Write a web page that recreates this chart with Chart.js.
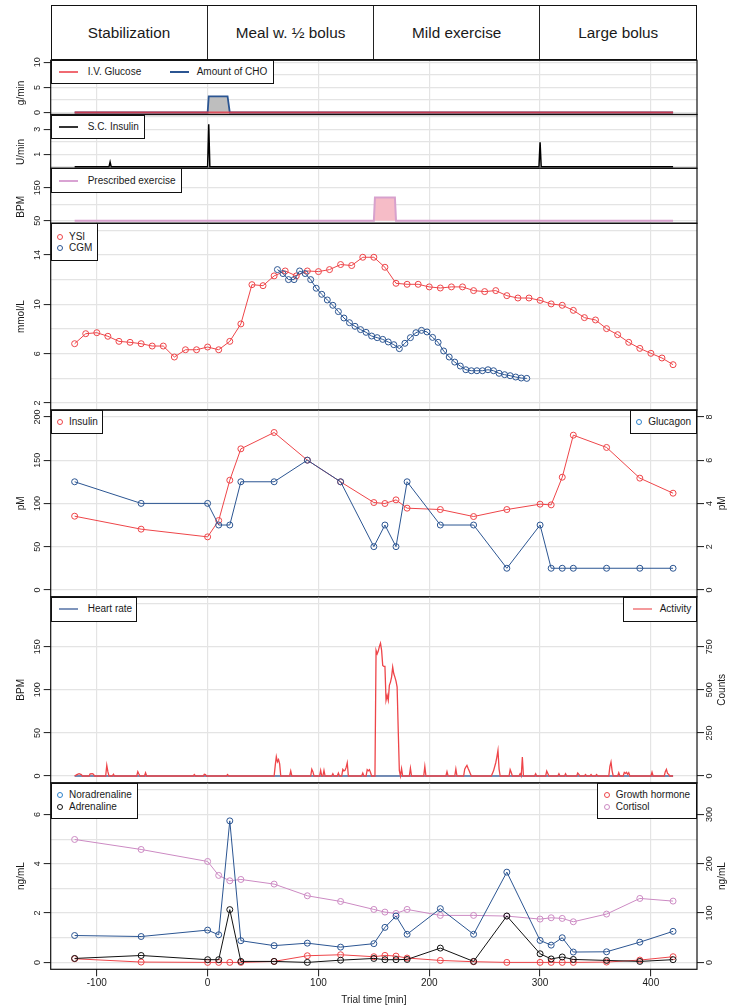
<!DOCTYPE html>
<html><head><meta charset="utf-8"><title>Trial overview</title>
<script src="https://cdn.jsdelivr.net/npm/chart.js@4.4.1/dist/chart.umd.min.js"></script>
<style>
html,body{margin:0;padding:0;background:#fff;}
body{width:743px;height:1008px;position:relative;overflow:hidden;font-family:"Liberation Sans",Arial,Helvetica,sans-serif;color:#1a1a1a;}
canvas{position:absolute;left:0;}
.lg{position:absolute;border:1px solid #111;background:#fff;box-sizing:border-box;z-index:5;font-size:10px;}
.lg span{position:absolute;white-space:nowrap;line-height:12px;}
.hdr{position:absolute;box-sizing:border-box;border:1.2px solid #111;z-index:4;background:#fff;}
.cell{position:absolute;top:0;bottom:0;display:flex;align-items:center;justify-content:center;font-size:15.3px;white-space:nowrap;}
.vdiv{position:absolute;top:0;bottom:0;width:1.2px;background:#222;}
</style></head><body>
<script>
// ---------------- data ----------------
const xMin = -141.6, xMax = 441.6;
const xTicks = [-100, 0, 100, 200, 300, 400];
const phaseNames = ['Stabilization', 'Meal w. \u00bd bolus', 'Mild exercise', 'Large bolus'];
const phaseStarts = [xMin, 0, 150, 300];

const ivGlucoseT = [-120, 420];
const ivGlucose = [0, 0];
const choT = [-120, 0, 1, 18, 20, 420];
const cho = [0, 0, 3.2, 3.2, 0, 0];
const scInsulinT = [-120, -89, -88, -87, 0, 1, 2, 299, 300, 301, 420];
const scInsulin = [0, 0, 0.38, 0, 0, 3.4, 0, 0, 1.95, 0, 0];
const exerciseT = [-120, 150, 151, 169, 170, 420];
const exercise = [50, 50, 120, 120, 50, 50];

const ysiT = [-120,-110,-100,-90,-80,-70,-60,-50,-40,-30,-20,-10,0,10,20,30,40,50,60,70,80,90,100,110,120,130,140,150,160,170,180,190,200,210,220,230,240,250,260,270,280,290,300,310,320,330,340,350,360,370,380,390,400,410,420];
const ysi = [6.81,7.62,7.70,7.41,7.00,6.92,6.81,6.62,6.62,5.73,6.32,6.32,6.54,6.32,7.00,8.41,11.59,11.51,12.30,12.70,12.30,12.70,12.65,12.81,13.22,13.14,13.81,13.81,13.00,11.70,11.62,11.62,11.41,11.32,11.41,11.41,11.11,11.03,11.11,10.70,10.51,10.51,10.32,10.03,9.92,9.51,8.92,8.73,8.03,7.54,6.92,6.43,6.03,5.65,5.11];
const cgmT = [63,68,73,78,83,88,93,98,103,108,113,118,123,128,133,138,143,148,153,158,163,168,173,178,183,188,193,198,203,208,213,218,223,228,233,238,243,248,253,258,263,268,273,278,283,288];
const cgm = [12.81,12.49,12.0,12.0,12.70,12.49,12.0,11.30,10.81,10.35,9.92,9.41,8.89,8.51,8.22,7.95,7.73,7.43,7.30,7.16,6.95,6.73,6.41,6.84,7.30,7.70,7.89,7.76,7.32,6.92,6.22,5.73,5.32,5.0,4.70,4.62,4.62,4.62,4.70,4.62,4.41,4.30,4.22,4.11,4.03,4.0];

const sampleT = [-120,-60,0,10,20,30,60,90,120,150,160,170,180,210,240,270,300,310,320,330,360,390,420];
const insulin = [85.2,70.2,61.3,80.2,126.8,163.1,182,150,124.9,101,99.9,104.1,94.5,92.9,84.8,92.9,99.1,98.3,130.3,178.9,164.7,129.2,111.8];
const glucagon = [5,4,4,3,3,5,5,6,5,2,3,2,5,3,3,1,3,1,1,1,1,1,1];
const noradrenaline = [1.09,1.05,1.31,1.12,5.74,0.88,0.68,0.78,0.62,0.76,1.42,1.88,1.14,2.18,1.14,3.66,0.89,0.70,1.00,0.42,0.43,0.82,1.26];
const adrenaline = [0.16,0.28,0.11,0.11,2.14,0.04,0.04,0.00,0.09,0.16,0.11,0.11,0.12,0.58,0.04,1.88,0.35,0.14,0.22,0.12,0.08,0.04,0.11];
const growthHormone = [7.4,0.7,0,0,0,0,2,13.5,15.5,11.5,14.2,12.8,8.8,4,1.4,0,0,0,0,0,0.7,4.7,11.5];
const cortisol = [249.3,229,204.7,176.4,165.5,168.2,158.8,135.1,123.6,107.4,102,99.3,107.4,95.3,95.3,93.9,87.8,90.5,89.2,82.4,98,129.7,124.3];

const heartRateT = [-120, 420];
const heartRate = [0, 0];
const activityT = [
 -120,-118,-116,-114,-113,
 -107,-106,-104,-103,-102,
 -92,-91,-90,-89,
 -86,-85,-84,
 -64,-63,-62,-61,
 -57,-56,-55,
 -13,-12,-11,
 -4,-3,-2,-1,
 17,18,19,
 60,61,62,63,64,65,66,
 74,75,76,
 93,94,95,96,
 101,102,103,104,105,106,
 112,113,114,
 117,118,119,
 121,122,123,124,125,126,127,
 139,140,141,
 143,144,145,146,147,148,
 151,152,153,154,155,156,157,158,159,160,161,162,163,164,165,166,167,168,169,170,171,172,173,174,175,176,
 182,183,184,
 195,196,197,
 215,216,217,
 223,224,225,
 231,232,233,234,235,236,237,238,
 256,258,260,261,262,263,264,
 272,273,274,275,
 281,282,283,284,285,
 295,296,297,
 305,306,307,308,
 316,317,318,
 322,323,324,
 333,334,335,336,
 340,341,342,
 345,346,347,
 350,351,352,
 362,363,364,365,366,
 370,371,372,
 375,376,377,378,379,380,381,
 400,401,402,
 412,413,414,415,416,417,
 420];
const activity = [
 0,8,13,8,0,
 0,12,13,10,0,
 0,62,25,0,
 0,10,0,
 0,25,12,0,
 0,19,0,
 0,8,0,
 0,10,8,0,
 0,8,0,
 0,60,112,82,95,70,0,
 0,29,0,
 0,39,25,0,
 0,33,0,0,33,0,
 0,13,0,
 0,17,0,
 0,39,30,33,50,77,0,
 0,17,0,
 0,37,30,37,20,0,
 0,729,709,725,752,771,729,642,636,636,439,468,439,526,545,574,632,593,574,551,516,265,33,0,43,0,
 0,46,0,
 0,56,0,
 0,25,0,
 0,41,0,
 0,40,52,62,45,30,15,0,
 0,30,77,110,149,40,0,
 0,37,20,0,
 0,13,0,110,0,
 0,13,0,
 0,29,15,0,
 0,13,0,
 0,13,0,
 0,17,10,0,
 0,8,0,
 0,8,0,
 0,8,0,
 0,56,81,30,0,
 0,19,0,
 0,21,15,21,10,19,0,
 0,23,0,
 0,25,39,15,10,0,
 0];

// tick / grid values
const p1Grid = [0, 2.5, 5, 7.5, 10], p1Labels = [0, 5, 10];
const p2Grid = [0, 1, 2, 3, 4], p2Labels = [1, 3];
const p3Grid = [50, 100, 150], p3Labels = [50, 150];
const p4Grid = [2, 4, 6, 8, 10, 12, 14, 16], p4Labels = [2, 6, 10, 14];
const p5Grid = [0, 50, 100, 150, 200], p5Labels = [0, 50, 100, 150, 200];
const p5RTicks = [0, 2, 4, 6, 8];
const p6Grid = [0, 50, 100, 150, 200], p6Labels = [0, 50, 100, 150];
const p6RTicks = [0, 250, 500, 750];
const p7Grid = [0, 1, 2, 3, 4, 5, 6, 7], p7Labels = [0, 2, 4, 6];
const p7RTicks = [0, 100, 200, 300];

// ---------------- styling helpers ----------------
const FONT = '"Liberation Sans", Arial, Helvetica, sans-serif';
const RED = '#EE4549', BLUE = '#2B5592', LBLUE = '#2D82CB', PINK = '#CC8AC3', GRID = '#E4E4E4', INK = '#1a1a1a';
const LEFT_W = 50.7, RIGHT_W = 46;

const mctx = document.createElement('canvas').getContext('2d');
function widest(labels, size) {
  mctx.font = `normal normal ${size}px ${FONT}`;
  return Math.max(0, ...labels.map(v => mctx.measureText(String(v)).width));
}

function yAxis(o) {
  const size = 9, tl = 7;
  const gap = o.pos === 'left' ? 12.7 : 13;
  const pad = gap - tl - widest(o.labels, size) / 2;
  return {
    type: 'linear', position: o.pos, min: o.min, max: o.max,
    afterBuildTicks: s => { s.ticks = o.grid.map(v => ({value: v})); },
    afterFit: s => { s.width = o.pos === 'left' ? LEFT_W : RIGHT_W; },
    grid: {display: true, drawOnChartArea: o.drawGrid !== false, color: GRID, lineWidth: 1.2,
      drawTicks: true, tickLength: tl, tickWidth: 1,
      tickColor: c => (c.tick && o.labels.includes(c.tick.value)) ? INK : 'rgba(0,0,0,0)'},
    border: {display: false},
    ticks: {autoSkip: false, minRotation: 90, maxRotation: 90, crossAlign: 'center', padding: pad,
      color: INK, font: {size, family: FONT}, callback: v => o.labels.includes(v) ? String(v) : ''},
    title: o.title ? {display: true, text: o.title, color: INK, font: {size: 10, family: FONT}, padding: {top: 14.8, bottom: 0}} : {display: false}
  };
}

function xAxis(show, h) {
  return {
    type: 'linear', min: xMin, max: xMax,
    afterBuildTicks: s => { s.ticks = xTicks.map(v => ({value: v})); },
    afterFit: s => { s.height = h; },
    grid: {display: true, color: GRID, lineWidth: 1.2, drawTicks: show, tickLength: 7, tickWidth: 1, tickColor: INK},
    border: {display: false},
    ticks: {display: show, autoSkip: false, maxRotation: 0, minRotation: 0, padding: 1, color: INK, font: {size: 10, family: FONT}},
    title: {display: show, text: 'Trial time [min]', color: INK, font: {size: 10, family: FONT}, padding: {top: 0, bottom: 2}}
  };
}

const XY = (t, v) => t.map((x, i) => ({x, y: v[i]}));
function line(label, t, v, color, extra) {
  return Object.assign({label, data: XY(t, v), borderColor: color, backgroundColor: color, borderWidth: 1,
    pointRadius: 0, pointHoverRadius: 0, fill: false, tension: 0}, extra || {});
}
function pts(label, t, v, color, extra) {
  return line(label, t, v, color, Object.assign({pointRadius: 3, pointBorderWidth: 1, pointBorderColor: color,
    pointBackgroundColor: 'rgba(0,0,0,0)', pointStyle: 'circle'}, extra || {}));
}

function extras(titles) {
  return {id: 'extras', afterDraw(chart) {
    const {ctx, chartArea: a} = chart;
    ctx.save();
    ctx.strokeStyle = '#111'; ctx.lineWidth = 1.2;
    ctx.strokeRect(a.left, a.top, a.right - a.left, a.bottom - a.top);
    ctx.font = `10px ${FONT}`; ctx.fillStyle = INK; ctx.textAlign = 'center'; ctx.textBaseline = 'middle';
    for (const t of titles) {
      ctx.save();
      ctx.translate(t.x, (a.top + a.bottom) / 2 + (t.dy || 0));
      ctx.rotate(-Math.PI / 2);
      ctx.fillText(t.text, 0, 0);
      ctx.restore();
    }
    ctx.restore();
  }};
}

function makePanel(p) {
  const cTop = Math.floor(p.top) - 12;
  const cBot = p.last ? 1008 : Math.ceil(p.bottom) + 12;
  const cv = document.createElement('canvas');
  cv.width = 743; cv.height = cBot - cTop;
  cv.style.top = cTop + 'px'; cv.style.width = '743px'; cv.style.height = (cBot - cTop) + 'px';
  document.body.appendChild(cv);
  const xh = p.last ? (1008 - p.bottom) : 0;
  const scales = Object.assign({x: xAxis(!!p.last, xh)}, p.scales);
  return new Chart(cv, {
    type: 'line',
    data: {datasets: p.datasets},
    options: {
      responsive: false, maintainAspectRatio: false, animation: false, devicePixelRatio: 1, events: [],
      layout: {padding: {left: 0, right: p.right ? 0 : RIGHT_W, top: p.top - cTop, bottom: p.last ? 0 : cBot - p.bottom}},
      plugins: {legend: {display: false}, tooltip: {enabled: false}},
      scales
    },
    plugins: [extras(p.titles || [])]
  });
}

function legend(box, items) {
  const d = document.createElement('div'); d.className = 'lg';
  d.style.left = box.x + 'px'; d.style.top = box.y + 'px'; d.style.width = box.w + 'px'; d.style.height = box.h + 'px';
  for (const it of items) {
    const m = document.createElement('div');
    if (it.kind === 'line') {
      m.style.cssText = `position:absolute;left:${it.mx - 1}px;top:${it.y - 2}px;width:19px;height:2px;background:${it.color}`;
    } else {
      m.style.cssText = `position:absolute;left:${it.mx - 4}px;top:${it.y - 4}px;width:6px;height:6px;box-sizing:border-box;border:1.2px solid ${it.color};border-radius:50%`;
    }
    d.appendChild(m);
    const s = document.createElement('span'); s.textContent = it.text;
    s.style.left = (it.tx - 1) + 'px'; s.style.top = (it.y - 7) + 'px';
    d.appendChild(s);
  }
  document.body.appendChild(d);
}

function header(chart) {
  const xs = chart.scales.x, a = chart.chartArea;
  const L = a.left, R = a.right, top = 5, h = 60.3 - 5, bw = 1.2;
  const d = document.createElement('div'); d.className = 'hdr';
  d.style.left = L + 'px'; d.style.top = top + 'px'; d.style.width = (R - L) + 'px'; d.style.height = h + 'px';
  const bounds = phaseStarts.map(v => xs.getPixelForValue(v)).concat([R]);
  phaseNames.forEach((n, i) => {
    const c = document.createElement('div'); c.className = 'cell';
    c.style.left = (bounds[i] - L - bw) + 'px'; c.style.width = (bounds[i + 1] - bounds[i]) + 'px';
    c.textContent = n; d.appendChild(c);
    if (i > 0) { const v = document.createElement('div'); v.className = 'vdiv'; v.style.left = (bounds[i] - L - bw - 0.6) + 'px'; d.appendChild(v); }
  });
  document.body.appendChild(d);
}

// ---------------- panels ----------------
const c1 = makePanel({top: 60.3, bottom: 114.5,
  scales: {y: yAxis({pos: 'left', min: -0.4, max: 10.4, grid: p1Grid, labels: p1Labels})},
  titles: [{text: 'g/min', x: 20.8, dy: 5.5}],
  datasets: [
    line('I.V. Glucose', ivGlucoseT, ivGlucose, 'rgba(225,55,70,0.85)', {borderWidth: 2, order: 0}),
    line('Amount of CHO', choT, cho, BLUE, {borderWidth: 1.8, fill: 'origin', backgroundColor: '#BEBEBE', order: 1})
  ]});
header(c1);

makePanel({top: 114.5, bottom: 168.3,
  scales: {y: yAxis({pos: 'left', min: -0.12, max: 4.18, grid: p2Grid, labels: p2Labels})},
  titles: [{text: 'U/min', x: 20.8, dy: 10.5}],
  datasets: [line('S.C. Insulin', scInsulinT, scInsulin, '#000', {borderWidth: 1.5})]});

makePanel({top: 168.3, bottom: 223.3,
  scales: {y: yAxis({pos: 'left', min: 42.1, max: 208.8, grid: p3Grid, labels: p3Labels})},
  titles: [{text: 'BPM', x: 20.8, dy: 11}],
  datasets: [line('Prescribed exercise', exerciseT, exercise, '#D7A1CD', {borderWidth: 2, fill: {value: 50}, backgroundColor: '#F6BCC7'})]});

makePanel({top: 223.3, bottom: 410,
  scales: {y: yAxis({pos: 'left', min: 1.44, max: 16.56, grid: p4Grid, labels: p4Labels, title: 'mmol/L'})},
  datasets: [
    pts('CGM', cgmT, cgm, BLUE, {order: 0}),
    pts('YSI', ysiT, ysi, RED, {order: 1})
  ]});

makePanel({top: 410, bottom: 596.8, right: true,
  scales: {
    y: yAxis({pos: 'left', min: -8, max: 208, grid: p5Grid, labels: p5Labels, title: 'pM'}),
    y2: yAxis({pos: 'right', min: -0.32, max: 8.32, grid: p5RTicks, labels: p5RTicks, drawGrid: false})
  },
  titles: [{text: 'pM', x: 722.5}],
  datasets: [
    pts('Glucagon', sampleT, glucagon, BLUE, {yAxisID: 'y2', order: 0}),
    pts('Insulin', sampleT, insulin, RED, {yAxisID: 'y', order: 1})
  ]});

makePanel({top: 596.8, bottom: 782.9, right: true,
  scales: {
    y: yAxis({pos: 'left', min: -8, max: 208, grid: p6Grid, labels: p6Labels, title: 'BPM'}),
    y2: yAxis({pos: 'right', min: -40, max: 1040, grid: p6RTicks, labels: p6RTicks, drawGrid: false})
  },
  titles: [{text: 'Counts', x: 722.5}],
  datasets: [
    line('Activity', activityT, activity, RED, {yAxisID: 'y2', borderWidth: 1.3, order: 0}),
    line('Heart rate', heartRateT, heartRate, '#4A6AA0', {yAxisID: 'y', borderWidth: 1.5, order: 1})
  ]});

makePanel({top: 782.9, bottom: 969.3, right: true, last: true,
  scales: {
    y: yAxis({pos: 'left', min: -0.28, max: 7.28, grid: p7Grid, labels: p7Labels, title: 'ng/mL'}),
    y2: yAxis({pos: 'right', min: -14, max: 364, grid: p7RTicks, labels: p7RTicks, drawGrid: false})
  },
  titles: [{text: 'ng/mL', x: 722.5}],
  datasets: [
    pts('Noradrenaline', sampleT, noradrenaline, BLUE, {order: 0}),
    pts('Adrenaline', sampleT, adrenaline, '#111', {order: 1}),
    pts('Growth hormone', sampleT, growthHormone, RED, {yAxisID: 'y2', order: 2}),
    pts('Cortisol', sampleT, cortisol, PINK, {yAxisID: 'y2', order: 3})
  ]});

// ---------------- legends ----------------
legend({x: 50.7, y: 60.3, w: 223.3, h: 24}, [
  {kind: 'line', color: '#F06A72', mx: 8.3, tx: 37, y: 12, text: 'I.V. Glucose'},
  {kind: 'line', color: BLUE, mx: 119.3, tx: 146, y: 12, text: 'Amount of CHO'}]);
legend({x: 50.7, y: 114.5, w: 94, h: 24.5}, [
  {kind: 'line', color: '#333', mx: 8.3, tx: 37, y: 12.5, text: 'S.C. Insulin'}]);
legend({x: 50.7, y: 168.3, w: 131.3, h: 25}, [
  {kind: 'line', color: '#D9A3D3', mx: 8.3, tx: 37, y: 12.8, text: 'Prescribed exercise'}]);
legend({x: 50.7, y: 223.3, w: 47, h: 37.4}, [
  {kind: 'pt', color: RED, mx: 9.3, tx: 18.3, y: 13.4, text: 'YSI'},
  {kind: 'pt', color: BLUE, mx: 9.3, tx: 18.3, y: 25, text: 'CGM'}]);
legend({x: 50.7, y: 410, w: 52.6, h: 24.3}, [
  {kind: 'pt', color: RED, mx: 9.3, tx: 18.3, y: 12.3, text: 'Insulin'}]);
legend({x: 630, y: 410, w: 67, h: 24.3}, [
  {kind: 'pt', color: LBLUE, mx: 9.3, tx: 18.3, y: 12.3, text: 'Glucagon'}]);
legend({x: 50.7, y: 596.8, w: 86.7, h: 24.9}, [
  {kind: 'line', color: '#7F95BC', mx: 8.3, tx: 37, y: 12.5, text: 'Heart rate'}]);
legend({x: 623, y: 596.8, w: 74, h: 24.9}, [
  {kind: 'line', color: '#F49A9C', mx: 9.7, tx: 36.7, y: 12.5, text: 'Activity'}]);
legend({x: 50.7, y: 782.9, w: 87.6, h: 36.4}, [
  {kind: 'pt', color: LBLUE, mx: 9.3, tx: 18.3, y: 12.4, text: 'Noradrenaline'},
  {kind: 'pt', color: '#111', mx: 9.3, tx: 18.3, y: 24.4, text: 'Adrenaline'}]);
legend({x: 597.3, y: 782.9, w: 99.7, h: 36.4}, [
  {kind: 'pt', color: RED, mx: 9.4, tx: 18.4, y: 12.4, text: 'Growth hormone'},
  {kind: 'pt', color: PINK, mx: 9.4, tx: 18.4, y: 24.4, text: 'Cortisol'}]);
</script>
</body></html>
